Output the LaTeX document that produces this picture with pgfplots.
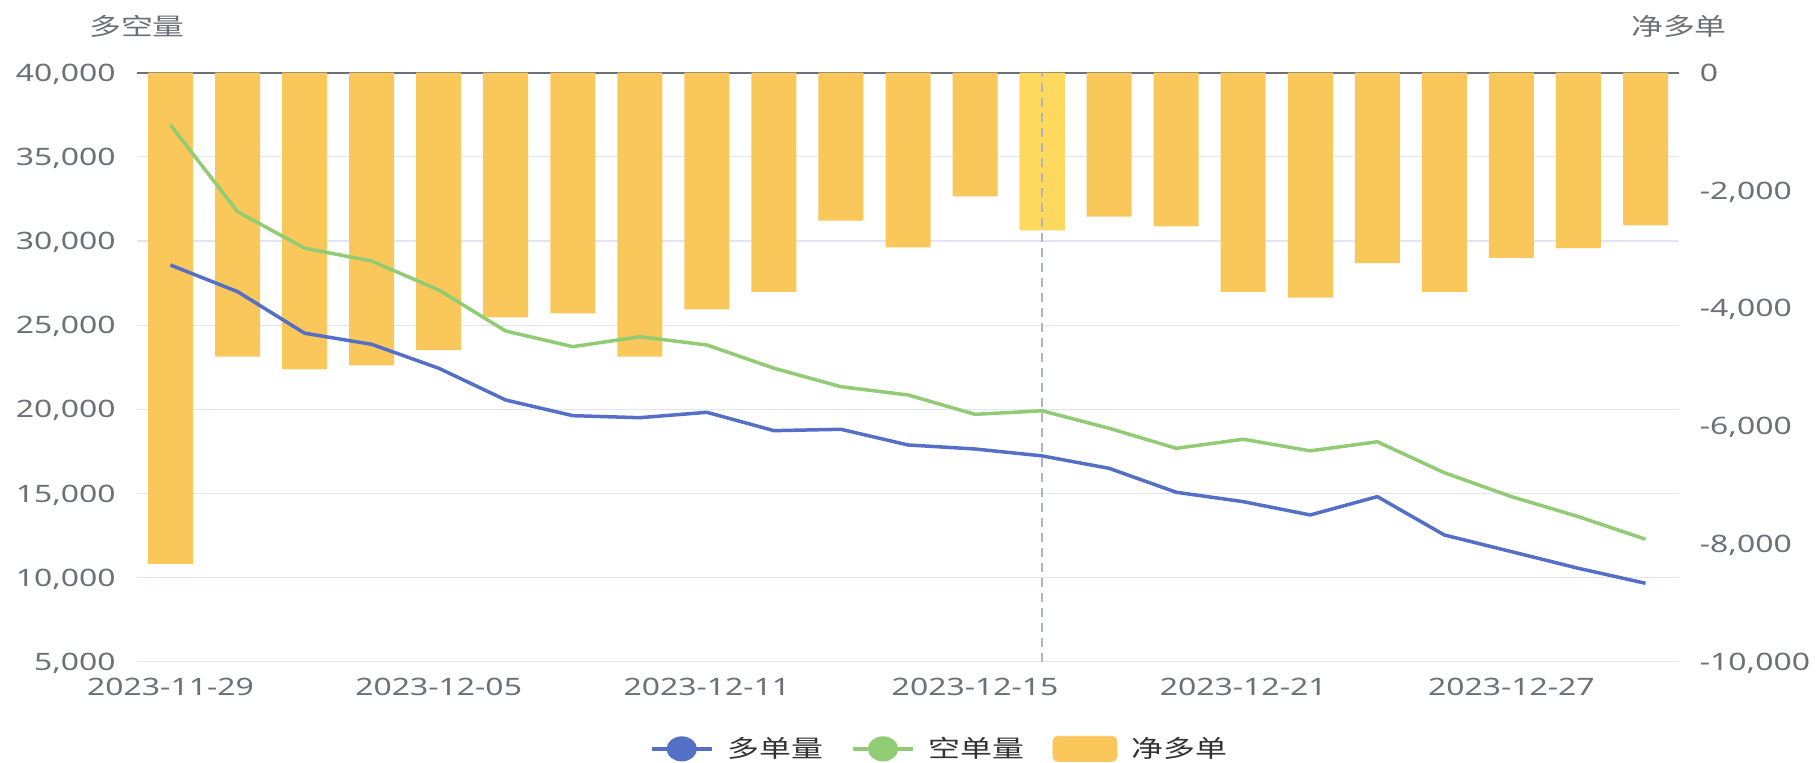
\documentclass[border=0pt]{standalone}
\usepackage{pgfplots}
\usepackage{pgfplotstable}
\pgfplotsset{compat=1.18}
\usepackage{fontspec}
\setmainfont{Noto Sans}[FakeStretch=1.33]
\newfontfamily\cjk{Noto Sans CJK SC}[FakeStretch=1.33]
\definecolor{cblue}{HTML}{5470C6}
\definecolor{cgreen}{HTML}{91CC75}
\definecolor{cyellow}{HTML}{F9C75A}
\definecolor{chl}{HTML}{FFD95E}
\definecolor{cgrid}{HTML}{E0E6F1}
\definecolor{caxis}{HTML}{6E7079}
\definecolor{clegend}{HTML}{333333}
\definecolor{cpointer}{HTML}{B0B4C0}

\pgfplotstableread{
x long short net
0 28570 36890 -8340
1 26990 31740 -4820
2 24520 29570 -5035
3 23860 28810 -4970
4 22440 27090 -4710
5 20550 24650 -4155
6 19620 23720 -4085
7 19500 24310 -4820
8 19820 23820 -4020
9 18730 22440 -3720
10 18810 21340 -2510
11 17880 20850 -2965
12 17640 19700 -2100
13 17230 19910 -2675
14 16490 18870 -2445
15 15070 17680 -2610
16 14510 18220 -3720
17 13720 17530 -3820
18 14810 18070 -3235
19 12530 16230 -3720
20 11540 14810 -3145
21 10550 13620 -2980
22 9660 12280 -2590
}\data

\pgfplotsset{
  base/.style={
    at={(68.5pt,50.15pt)}, anchor=south west,
    width=771pt, height=294.5pt, scale only axis,
    xmin=-0.5, xmax=22.5,
    axis line style={draw=none},
    major tick length=0pt,
    tick label style={font=\fontsize{12pt}{14pt}\selectfont, text=caxis},
    /pgf/number format/assume math mode=true,
    /pgf/number format/fixed,
    /pgf/number format/precision=0,
    /pgf/number format/1000 sep={,},
    scaled y ticks=false,
  }
}

\begin{document}
\begin{tikzpicture}
\useasboundingbox (0,0) rectangle (909.5pt,381pt);

% Axis A: left scale, grid, x labels
\begin{axis}[base, clip=false,
  ymin=5000, ymax=40000,
  ytick={5000,10000,...,40000},
  ymajorgrids, grid style={cgrid, line width=0.6pt},
  xtick={0,4,8,12,16,20},
  xticklabels={2023-11-29,2023-12-05,2023-12-11,2023-12-15,2023-12-21,2023-12-27},
  yticklabel style={anchor=base east, inner sep=0pt, xshift=-10.5pt, yshift=-4.3pt},
  xticklabel style={anchor=north, inner sep=0pt, yshift=-8.2pt},
]
\draw[caxis, line width=0.8pt] (rel axis cs:0,1) -- (rel axis cs:1,1);
\node[font=\cjk\fontsize{12pt}{14pt}\selectfont, text=caxis, inner sep=0pt] at (rel axis cs:0,1) [yshift=23.4pt] {多空量};
\node[font=\cjk\fontsize{12pt}{14pt}\selectfont, text=caxis, inner sep=0pt] at (rel axis cs:1,1) [yshift=23.4pt] {净多单};
\end{axis}

% Axis B: right scale, bars
\begin{axis}[base,
  ymin=-10000, ymax=0,
  ytick={-10000,-8000,...,0},
  yticklabel pos=right,
  xtick=\empty,
  yticklabel style={anchor=base west, inner sep=0pt, xshift=10.25pt, yshift=-4.3pt},
  ybar, bar width=22.5pt, bar shift=0pt,
]
\addplot[fill=cyellow, draw=none] table[x=x, y=net] {\data};
\addplot[fill=chl, draw=none] coordinates {(13,-2675)};
\end{axis}

% Axis C: lines and legend
\begin{axis}[base,
  ymin=5000, ymax=40000,
  xtick=\empty, ytick=\empty,
  legend columns=3,
  legend style={at={(0.3327,-0.148)}, anchor=west, draw=none, fill=none,
    inner sep=0pt, outer sep=0pt,
    font=\cjk\fontsize{12pt}{14pt}\selectfont, text=clegend,
    nodes={inner sep=0pt},
    /tikz/every odd column/.append style={column sep=7pt},
    /tikz/every even column/.append style={column sep=14pt}},
]
\draw[cpointer, line width=0.7pt, dash pattern=on 4.5pt off 3pt] (axis cs:13,5000) -- (axis cs:13,40000);
\addplot[cblue, line width=1.75pt, line join=round,
  legend image code/.code={\draw[cblue, line width=1.75pt] (0pt,0pt) -- (30pt,0pt); \fill[cblue] (15pt,0pt) ellipse [x radius=6.7pt, y radius=5.4pt];}]
  table[x=x, y=long] {\data};
\addlegendentry{多单量}
\addplot[cgreen, line width=1.75pt, line join=round,
  legend image code/.code={\draw[cgreen, line width=1.75pt] (0pt,0pt) -- (30pt,0pt); \fill[cgreen] (15pt,0pt) ellipse [x radius=6.7pt, y radius=5.4pt];}]
  table[x=x, y=short] {\data};
\addlegendentry{空单量}
\addlegendimage{legend image code/.code={\fill[cyellow, rounded corners=2.5pt] (0pt,-6.3pt) rectangle (32pt,6.3pt);}}
\addlegendentry{净多单}
\end{axis}
\end{tikzpicture}
\end{document}
